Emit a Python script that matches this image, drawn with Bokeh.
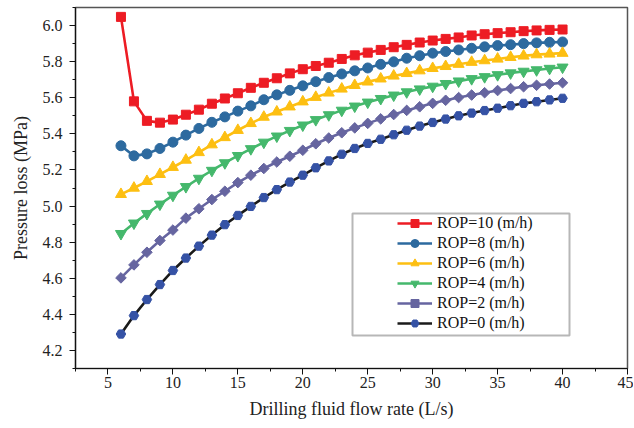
from bokeh.plotting import figure
from bokeh.models import FixedTicker, Legend, LegendItem, Range1d, BoxAnnotation, NumeralTickFormatter
from bokeh.embed import file_html
from bokeh.resources import INLINE
import math

flow_rate = list(range(6, 41))

rop10 = [6.048, 5.580, 5.472, 5.462, 5.479, 5.506, 5.534, 5.567, 5.596, 5.625,
         5.655, 5.683, 5.708, 5.735, 5.758, 5.776, 5.794, 5.815, 5.835, 5.850,
         5.865, 5.880, 5.893, 5.906, 5.917, 5.926, 5.934, 5.945, 5.952, 5.958,
         5.963, 5.969, 5.973, 5.976, 5.978]
rop8 = [5.334, 5.278, 5.289, 5.319, 5.354, 5.393, 5.430, 5.464, 5.494, 5.526,
        5.555, 5.589, 5.616, 5.641, 5.666, 5.689, 5.712, 5.732, 5.749, 5.765,
        5.785, 5.799, 5.819, 5.833, 5.847, 5.856, 5.865, 5.874, 5.882, 5.889,
        5.894, 5.900, 5.904, 5.907, 5.909]
rop6 = [5.065, 5.100, 5.137, 5.176, 5.215, 5.255, 5.297, 5.340, 5.380, 5.420,
        5.458, 5.493, 5.522, 5.550, 5.578, 5.603, 5.627, 5.649, 5.669, 5.688,
        5.705, 5.721, 5.735, 5.750, 5.763, 5.774, 5.786, 5.797, 5.806, 5.815,
        5.824, 5.832, 5.839, 5.843, 5.847]
rop4 = [4.847, 4.905, 4.958, 5.010, 5.059, 5.107, 5.153, 5.197, 5.239, 5.279,
        5.317, 5.353, 5.387, 5.418, 5.448, 5.478, 5.505, 5.530, 5.553, 5.575,
        5.595, 5.614, 5.632, 5.648, 5.663, 5.678, 5.692, 5.705, 5.716, 5.727,
        5.737, 5.746, 5.754, 5.762, 5.769]
rop2 = [4.602, 4.674, 4.744, 4.809, 4.867, 4.933, 4.985, 5.036, 5.082, 5.130,
        5.171, 5.208, 5.244, 5.276, 5.309, 5.345, 5.377, 5.406, 5.433, 5.458,
        5.483, 5.507, 5.530, 5.550, 5.569, 5.586, 5.601, 5.615, 5.628, 5.640,
        5.651, 5.661, 5.669, 5.676, 5.683]
rop0 = [4.291, 4.393, 4.482, 4.565, 4.643, 4.712, 4.778, 4.839, 4.897, 4.948,
        4.998, 5.047, 5.091, 5.133, 5.171, 5.212, 5.250, 5.287, 5.319, 5.347,
        5.370, 5.395, 5.420, 5.443, 5.463, 5.482, 5.500, 5.515, 5.529, 5.542,
        5.556, 5.569, 5.578, 5.588, 5.597]

labels = ["ROP=10 (m/h)", "ROP=8 (m/h)", "ROP=6 (m/h)",
          "ROP=4 (m/h)", "ROP=2 (m/h)", "ROP=0 (m/h)"]
x_ticks = [5, 10, 15, 20, 25, 30, 35, 40, 45]
x_minor = [2.5, 7.5, 12.5, 17.5, 22.5, 27.5, 32.5, 37.5, 42.5]
y_ticks = [4.2, 4.4, 4.6, 4.8, 5.0, 5.2, 5.4, 5.6, 5.8, 6.0]
y_minor = [4.1, 4.3, 4.5, 4.7, 4.9, 5.1, 5.3, 5.5, 5.7, 5.9, 6.1]

series = [rop10, rop8, rop6, rop4, rop2, rop0]
line_colors = ["#ED1C24", "#2D6A9F", "#FDBF12", "#45B86C", "#6665A0", "#1A1A1A"]
marker_colors = ["#ED1C24", "#2D6A9F", "#FDBF12", "#45B86C", "#6665A0", "#3552A5"]
markers = ["square", "circle", "triangle", "inverted_triangle", "square", "hex"]
sizes = [9, 10, 11, 11, 7.5, 9.5]
angles = [0, 0, 0, 0, math.pi / 4, 0]

FONT = "Liberation Serif"

p = figure(frame_width=552, frame_height=361, output_backend="svg",
           toolbar_location=None, x_range=Range1d(2.5, 45), y_range=Range1d(4.1, 6.1),
           min_border_left=75, min_border_right=6, min_border_top=7, min_border_bottom=52)

p.xgrid.visible = False
p.ygrid.visible = False
p.outline_line_color = "#555555"
p.outline_line_width = 1.5

items = []
for ys, lc, mc, mk, sz, ang, lab in zip(series, line_colors, marker_colors, markers, sizes, angles, labels):
    r1 = p.line(flow_rate, ys, line_color=lc, line_width=2.6)
    r2 = p.scatter(flow_rate, ys, marker=mk, size=sz, angle=ang,
                   fill_color=mc, line_color=mc, line_width=1)
    items.append(LegendItem(label=lab, renderers=[r1, r2]))

legend = Legend(items=items, location=(320, 33), padding=2, spacing=0,
                glyph_width=35, glyph_height=20, label_height=20, label_standoff=5,
                border_line_alpha=0, background_fill_alpha=0,
                label_text_font=FONT, label_text_font_size="16px",
                label_text_color="#111111")
p.add_layout(legend)

box = BoxAnnotation(left=277, right=494, bottom=33, top=155,
                    left_units="screen", right_units="screen",
                    top_units="screen", bottom_units="screen",
                    fill_alpha=0, line_color="#111111", line_width=2)
p.add_layout(box)

p.xaxis.ticker = FixedTicker(ticks=x_ticks, minor_ticks=x_minor)
p.yaxis.ticker = FixedTicker(ticks=y_ticks, minor_ticks=y_minor)
p.yaxis.formatter = NumeralTickFormatter(format="0.0")

for ax in (p.xaxis[0], p.yaxis[0]):
    ax.axis_line_color = "#111111"
    ax.axis_line_width = 1.2
    ax.major_tick_line_color = "#111111"
    ax.minor_tick_line_color = "#111111"
    ax.major_tick_in = 0
    ax.major_tick_out = 6
    ax.minor_tick_in = 0
    ax.minor_tick_out = 3
    ax.major_label_text_font = FONT
    ax.major_label_text_font_size = "16px"
    ax.major_label_text_color = "#222222"
    ax.axis_label_text_font = FONT
    ax.axis_label_text_font_size = "18px"
    ax.axis_label_text_font_style = "normal"
    ax.axis_label_text_color = "#222222"

p.xaxis.axis_label = "Drilling fluid flow rate (L/s)"
p.yaxis.axis_label = "Pressure loss (MPa)"
p.xaxis.major_label_standoff = 2
p.yaxis.major_label_standoff = 7
p.xaxis.axis_label_standoff = 8
p.yaxis.axis_label_standoff = 9

open("out.html", "w").write(file_html(p, INLINE))
